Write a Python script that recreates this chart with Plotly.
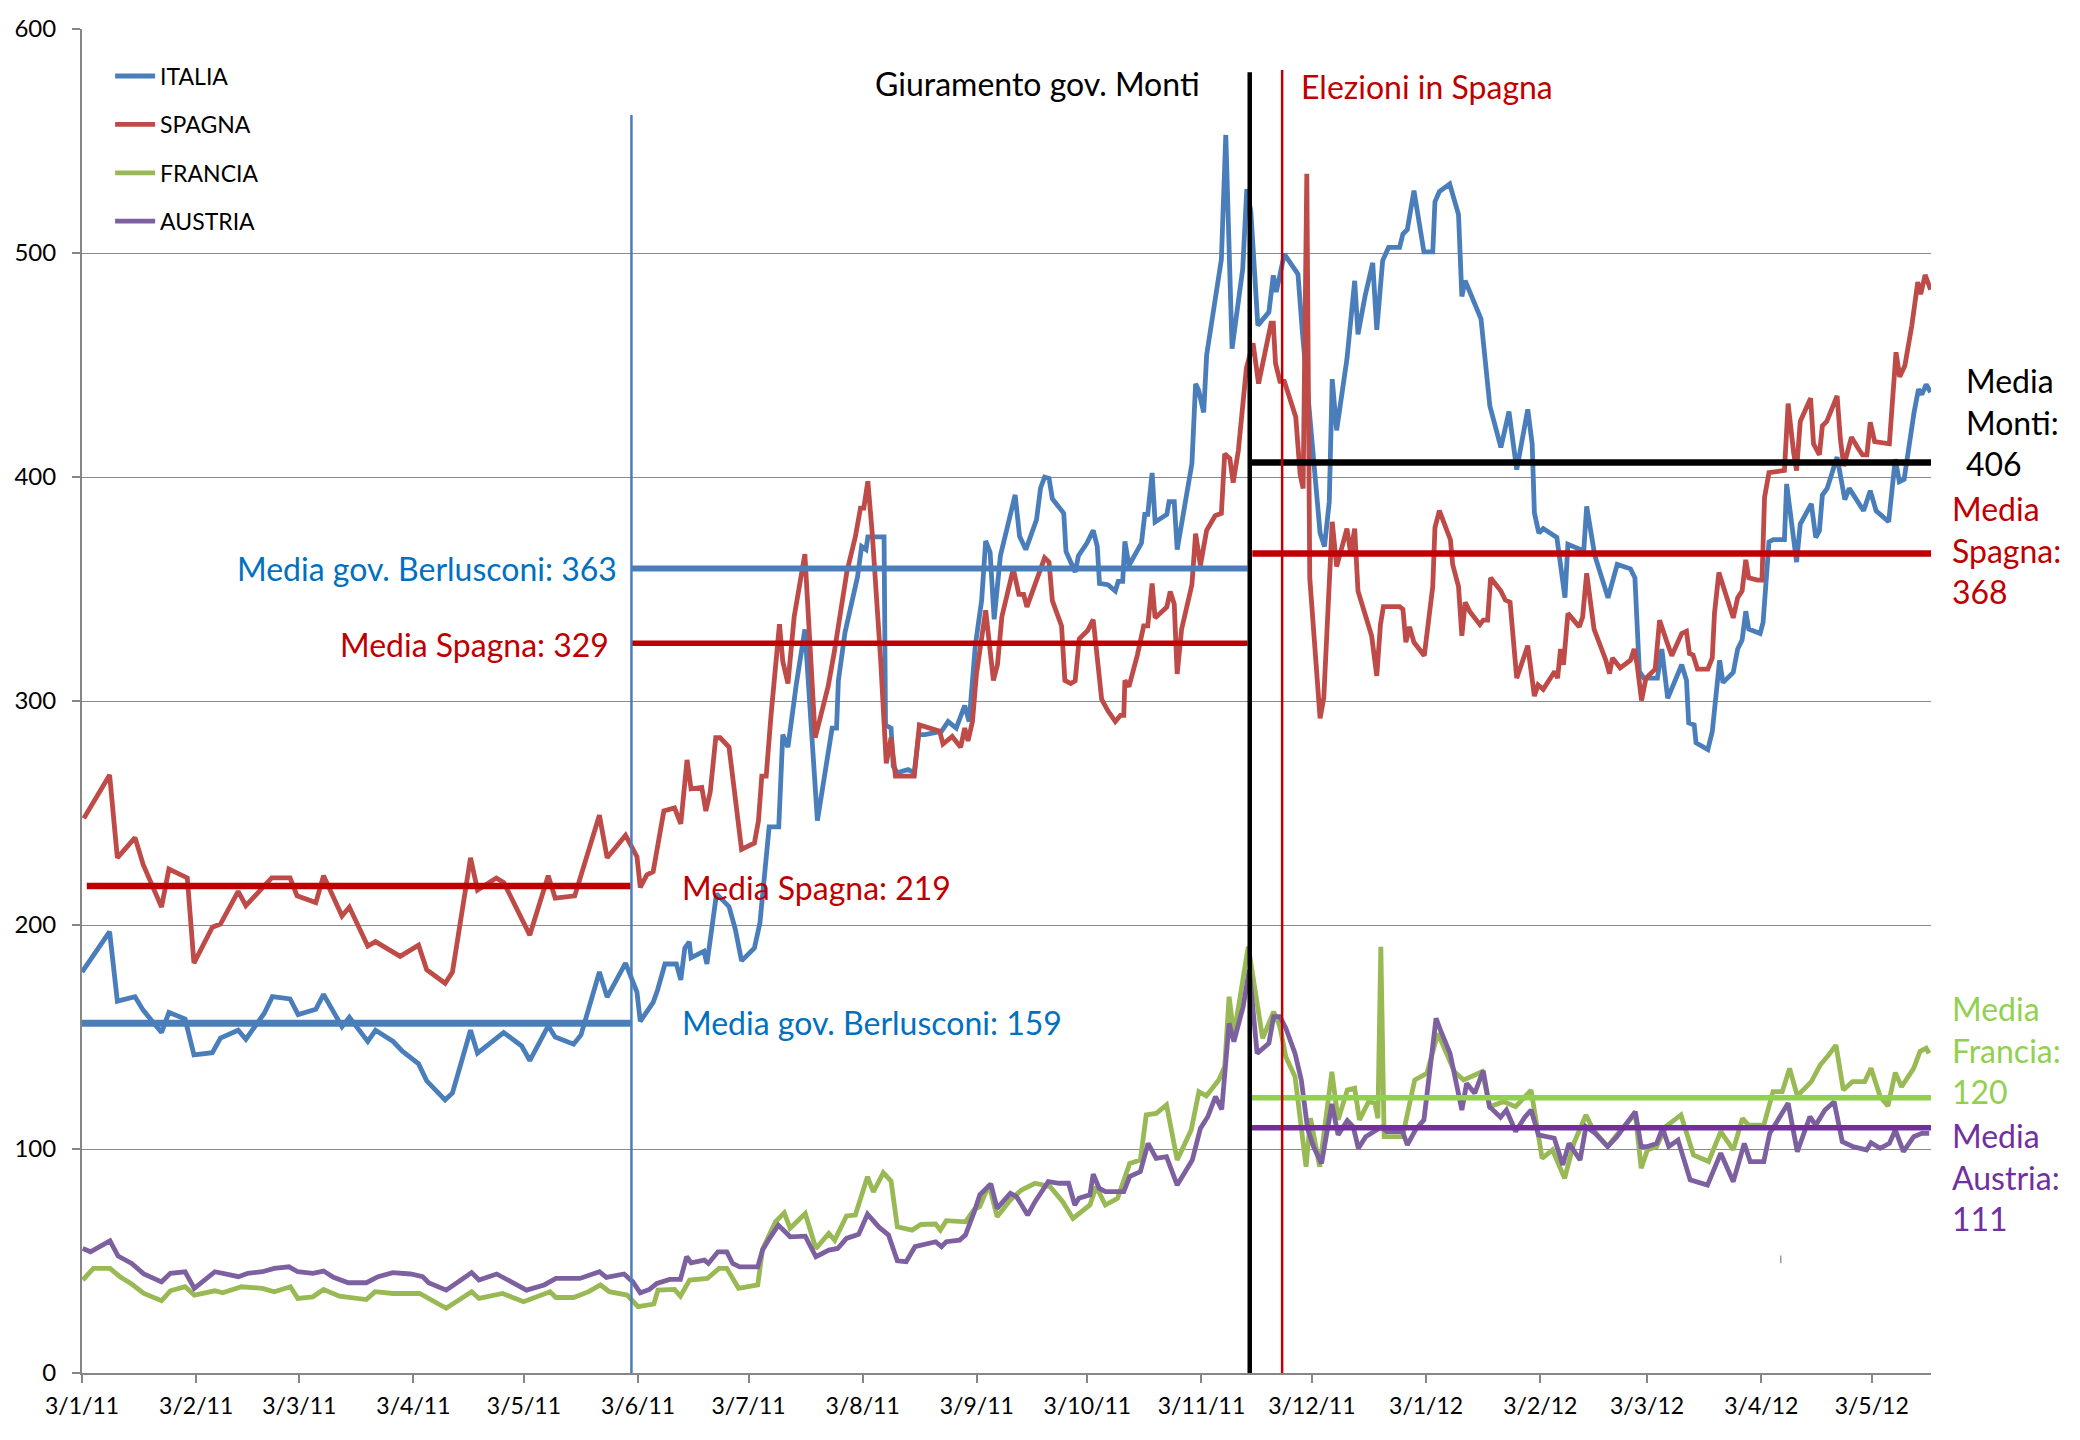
import plotly.graph_objects as go
import pandas as pd

START = pd.Timestamp("2011-01-03")

# x positions are days elapsed since START (3 Jan 2011)
ITALIA = [
    (0, 179), (7.5, 197), (9.6, 166), (14.4, 168), (16.6, 162), (21.6, 152), (23.6, 161), (28, 158),
    (30.4, 142), (35.4, 143), (37.6, 149.5), (42.4, 153), (44.5, 149), (49.5, 160.6), (51.7, 168),
    (56.5, 167), (58.7, 160), (63.5, 162.4), (65.6, 169), (70.6, 154.6), (72.6, 158.8), (77.6, 148),
    (79.7, 153), (84.5, 148), (87, 143.7), (91.4, 138), (93.6, 130.4), (98.6, 121.9), (100.6, 125),
    (105.5, 153), (107.4, 142.8), (114.5, 152), (119.4, 146), (121.6, 139.5), (126.6, 155), (128.5, 150),
    (133.5, 146.8), (135.5, 150.9), (140.5, 179), (142.6, 167.8), (147.6, 183), (150.7, 170), (151.6, 157),
    (155.1, 165.5), (156.3, 171), (158.3, 182.6), (161.4, 182.6), (162.6, 175.5), (163.7, 189.7),
    (164.9, 192.5), (165.4, 185.4), (168.9, 188.3), (169.7, 182.6), (172.3, 213.9), (175.7, 208.2),
    (177.4, 198.2), (179.1, 184), (182.6, 189.7), (184.1, 201), (186.6, 243.8), (189.2, 243.8),
    (190.3, 285), (191.7, 279.4), (194, 307.8), (196.3, 332), (199.7, 246.6), (203.7, 287.9),
    (204.9, 287.9), (205.4, 309.2), (207.2, 330.6), (210.6, 355.4), (211.7, 369), (212.9, 367.6),
    (213.4, 373.3), (217.8, 373.3), (218.2, 289.3), (219.7, 287.9), (220.3, 270.8), (221.4, 268),
    (224.3, 269.4), (226, 268), (227.2, 285), (228.9, 285), (233.4, 286.5), (235.2, 290.8), (237.4, 287.9),
    (239.7, 297.9), (240.9, 290.8), (242.6, 325), (244.3, 344.9), (245.4, 371.5), (246.6, 366.4),
    (247.7, 336.5), (249.4, 364.9), (253.4, 392), (254.6, 373.5), (256.3, 367.6), (259.2, 380.9),
    (260.3, 395.1), (261.4, 399.9), (262.6, 399.4), (263.5, 390.3), (266.6, 383.8), (267.2, 366.8),
    (269.7, 357.6), (270.6, 364.9), (272.9, 370.5), (274.6, 376.2), (275.7, 369), (276.3, 352.5),
    (278.6, 351.9), (280.6, 349.1), (281.4, 353.4), (282.6, 353.4), (283.2, 371.3), (284.3, 360.5),
    (287.7, 370.5), (288.6, 383.3), (289.4, 383.3), (290.6, 401.8), (291.4, 379.9), (294.6, 383.3),
    (295.2, 389), (296.6, 389), (297.4, 367.6), (299.2, 386.1), (301.4, 406), (302.4, 441.6),
    (303.2, 438.8), (304.6, 428.8), (305.4, 454.5), (309.4, 497.2), (310.6, 552.7), (312.3, 457.3),
    (315.2, 492.9), (316.3, 528.5), (317.4, 518.5), (319.3, 467.7), (322.3, 473.6), (323.5, 490),
    (324.3, 482.6), (326.5, 499.5), (328.3, 495.6), (330.2, 490.6), (331.4, 464.7), (336.2, 375),
    (337.4, 369), (338.7, 389), (339.5, 443.7), (340.7, 420.8), (343.5, 452.7), (345.6, 487.6),
    (346.5, 463.7), (348.4, 480.6), (350.5, 495.6), (351.6, 465.7), (353.2, 496.6), (354.8, 502.5),
    (357.8, 502.5), (358.7, 508.5), (359.9, 510.5), (361.7, 527.8), (364.4, 500.5), (366.8, 500.5),
    (367.4, 522.9), (368.6, 527.4), (371.4, 530.8), (373.8, 517.1), (374.7, 480.6), (375.6, 487.6),
    (379.9, 470.6), (381.1, 450.7), (382.3, 431.8), (385.3, 413.2), (387.5, 429.2), (389.6, 403.3),
    (392.6, 430.2), (393.8, 414.8), (394.4, 384), (395.6, 375), (396.8, 377), (400.5, 373),
    (402.7, 346.1), (403.5, 370), (407.8, 367), (408.6, 386.9), (410.8, 365), (414.4, 346.1),
    (416.9, 361), (420.5, 359), (421.7, 355), (422.9, 313.2), (424.1, 310.2), (427.8, 310.2),
    (429, 323.2), (430.6, 301.2), (434.4, 316.2), (435.7, 309.2), (436.3, 290.3), (437.8, 289.3),
    (438.3, 281.3), (441.5, 278.3), (442.7, 286.3), (444.7, 318.2), (445.6, 308.2), (448.4, 312.8),
    (449.6, 323.2), (450.8, 327.2), (451.8, 340.1), (452.6, 332.1), (455.7, 330.1), (456.5, 335.1),
    (458.1, 371), (459.3, 372), (462.3, 372), (462.9, 396.9), (464.5, 376), (465.6, 362), (466.6, 379),
    (469.6, 388), (470.8, 373), (471.8, 376), (472.6, 391.9), (473.9, 394.9), (476.6, 408.9),
    (478.7, 389.9), (479.9, 394.9), (483.8, 384.9), (485.6, 393.9), (487.2, 384.9), (490.6, 380),
    (492.4, 407.9), (493.5, 397.9), (494.8, 398.9), (497.5, 428.8), (498.7, 439.2), (499.6, 436.8),
    (500.8, 441.3), (502, 437.8),
]

SPAGNA = [
    (0.5, 247.6), (7.5, 267), (9.6, 230), (14.4, 239), (16.6, 227), (21.6, 208), (23.6, 225), (28.6, 221),
    (30.4, 183), (35.4, 199), (37.6, 200.4), (42.4, 215), (44.5, 208.6), (51.5, 221), (56.5, 221),
    (58.4, 213), (63.5, 210), (65.6, 222), (70.6, 204), (72.6, 208), (77.6, 190.6), (79.7, 192.6),
    (86.4, 186), (91.4, 191), (93.6, 180), (98.6, 174), (100.6, 179), (105.5, 230), (107.4, 215.6),
    (112.5, 221), (114.5, 219), (121.6, 195.5), (126.6, 222), (128.5, 212), (133.8, 213), (140.5, 249),
    (142.6, 230), (147.6, 240), (150.7, 230.5), (151.6, 216.8), (153.4, 222.4), (155.1, 223.8),
    (158, 250.9), (160.9, 252.3), (162.6, 245.2), (164.3, 273.7), (165.4, 260.8), (168.3, 261.4),
    (169.4, 250.9), (170.6, 259.4), (172.1, 283.6), (173.3, 283.6), (175.7, 279.4), (177.4, 258),
    (179.1, 233.8), (182.6, 236.6), (183.7, 246.6), (184.6, 266.5), (185.8, 266.5), (187.1, 293.5),
    (189.4, 334.3), (190.3, 317.7), (191.7, 307.8), (193.4, 337.7), (196.3, 365.6), (199.1, 283.6),
    (202.6, 306.4), (204.3, 322), (206, 339.1), (207.7, 357.6), (210, 373.3), (211.4, 386.1),
    (212.3, 386.1), (213.4, 398.1), (214.6, 374.7), (216.9, 317.7), (218.4, 272.2), (219.7, 283.6),
    (220.9, 266.5), (226, 266.5), (227.4, 289.3), (232.9, 286.5), (233.8, 280.8), (236.3, 284.2),
    (238.6, 279.4), (239.7, 287.9), (240.6, 282.2), (241.8, 290.8), (242.9, 312.1), (245.4, 340.5),
    (247.5, 309.2), (248.6, 316.3), (249.8, 337.7), (252.9, 359), (254.4, 347.6), (255.7, 347.6),
    (256.6, 342), (261.4, 363.9), (262.6, 362), (263.5, 344.8), (266, 333.5), (266.9, 309.2),
    (268.5, 307.8), (269.7, 309), (270.8, 327.8), (273.1, 331.5), (274.6, 336.3), (276.9, 300.7),
    (278.6, 295.6), (280.6, 290.8), (282, 293.6), (282.9, 293.6), (283.2, 309.2), (284.3, 306.4),
    (286.6, 320.6), (288.3, 333.5), (289.4, 333.5), (290.6, 352.5), (291.4, 337.1), (294.6, 342),
    (295.5, 348.9), (296.6, 343.3), (297.4, 312.1), (298.6, 332), (301.4, 351.9), (302.4, 374.7),
    (303.7, 360.5), (305.4, 376.2), (307.7, 382.7), (309.4, 383.8), (310.3, 410.3), (311.7, 408.3),
    (312.6, 397.5), (314, 411.7), (316.2, 448.7), (318, 459.7), (319.5, 441.7), (322.9, 468.7),
    (323.5, 468.7), (324.1, 450.7), (325.3, 442.7), (326.5, 442.7), (329.6, 426.8), (330.8, 400.9),
    (331.6, 394.9), (332.6, 535.4), (333.4, 355), (336.2, 292.3), (337.2, 301.2), (339.5, 380),
    (340.7, 360), (343.5, 377), (344.5, 366), (345.6, 377), (346.5, 349.1), (347.7, 343.1),
    (350.2, 329.1), (351.6, 311.2), (352.6, 334.1), (353.4, 342.1), (357.8, 342.1), (358.7, 341),
    (359.5, 326.2), (360.5, 333.1), (361.7, 326.2), (364.5, 320.2), (366.8, 351.1), (367.4, 377.4),
    (368.6, 385), (371.6, 372), (372.2, 361), (373.8, 351.1), (374.7, 329.1), (375.6, 344.1),
    (376.8, 340.1), (379.6, 334.1), (380.5, 336.1), (381.7, 336.1), (382.5, 355), (385.3, 349.1),
    (386.5, 345.1), (387.8, 344.1), (389.6, 310.2), (392.6, 324.7), (394.4, 302.2), (395.4, 307.2),
    (396.8, 305.2), (399.9, 313.2), (400.7, 310.2), (401.5, 323.2), (402.3, 316.2), (403.5, 339.1),
    (406.6, 333.1), (407.5, 337.5), (408.6, 357), (410.6, 332.1), (413.8, 318.2), (414.8, 312.2),
    (415.6, 319.2), (417.7, 314.8), (420.5, 318.2), (421.5, 323.2), (422.3, 316.2), (423.5, 300.2),
    (424.7, 310.2), (427.2, 314.2), (428.4, 336.1), (430.2, 327.2), (431.7, 320.2), (434.4, 330.1),
    (435.7, 331.1), (436.5, 321.2), (437.5, 320.5), (438.7, 314.2), (441.5, 314.2), (442.7, 319.2),
    (443.3, 339.1), (444.5, 357.4), (446, 349.1), (448.4, 337.1), (449.6, 346.1), (450.8, 349.1),
    (451.8, 363), (452.6, 355), (455, 354), (456.2, 354), (456.9, 390.9), (458.1, 401.9),
    (462.3, 402.9), (463.3, 432.8), (464.8, 410.9), (465.6, 402.9), (466.6, 424.8), (469.4, 435.2),
    (470.2, 414.8), (471.8, 409.9), (472.6, 422.8), (473.8, 424.8), (476.6, 436.2), (477.5, 416.8),
    (478.4, 404.9), (480.5, 417.8), (482.3, 412.8), (483.5, 409.9), (484.7, 409.9), (485.6, 424.4),
    (486.8, 415.8), (490.8, 414.8), (492.6, 455.7), (493.6, 444.7), (495, 449.7), (496.9, 467.7),
    (498.5, 487), (499.3, 481.6), (500.5, 490.2), (502, 483.6),
]

FRANCIA = [
    (0.2, 41.5), (3.1, 46.7), (7.6, 46.7), (10.3, 43), (13.5, 39.7), (16.8, 35.5), (21.6, 32.3), (24, 36.7),
    (28, 38.5), (30.5, 34.8), (36.1, 36.7), (38.2, 35.8), (43.3, 38.5), (49, 37.8), (52.2, 36.3),
    (56.6, 38.5), (58.6, 33.3), (62.7, 34), (65.6, 37.3), (69.9, 34.3), (77.2, 32.8), (79.6, 36.3),
    (84.4, 35.5), (91.7, 35.5), (98.9, 28.9), (105.8, 36.3), (107.8, 33.3), (114.2, 35.5), (119.9, 31.8),
    (127.1, 36.3), (128.7, 33.7), (133.5, 33.7), (137.6, 36.3), (140.8, 39.3), (143.2, 36.3), (148, 34.8),
    (151, 29.6), (155.3, 30.8), (156.4, 37), (158.5, 37.3), (160.9, 37.3), (162.5, 34.3), (165, 41.5),
    (169.8, 42.2), (173, 46.7), (175.1, 46.7), (178.3, 37.8), (183.5, 39.3), (184.8, 55.2), (188.3, 67.5),
    (190.7, 71.5), (192.3, 64.6), (196.4, 71.2), (199.3, 55.6), (202.8, 62.3), (204.4, 59.3),
    (207.6, 70.1), (210, 70.5), (213.3, 87.6), (214.9, 80.9), (217.6, 89.4), (219.7, 85.7), (221.4, 65.3),
    (225.4, 63.8), (227.8, 66.3), (231.8, 66.5), (233.1, 63.8), (234.7, 68), (239.9, 67.5), (242.3, 73),
    (243.8, 74.3), (246.3, 84), (248.5, 69.8), (252.1, 77.2), (255.1, 81.7), (258.8, 84.7), (262.9, 83.2),
    (266.3, 76.5), (269.1, 69), (273.7, 75), (275.4, 83.2), (277.9, 75), (281.2, 78), (284.5, 93.6),
    (287.4, 95.1), (289, 115.2), (291.7, 115.9), (294.5, 119.7), (297.4, 95.1), (301.2, 108.5),
    (303.3, 125.6), (305.3, 123.7), (308.7, 130.8), (310.3, 136.8), (311.5, 168), (312.8, 150.9),
    (316.7, 190.3), (320.6, 149.4), (323.6, 161.3), (325.3, 154.6), (326.9, 141.2), (329.4, 132.3),
    (332.4, 92.1), (333.6, 113.7), (336.1, 92.1), (339.4, 134.5), (341.1, 113), (343.6, 126.3),
    (345.6, 127.1), (346.9, 113), (349.4, 121.2), (351.1, 120.4), (351.9, 113.7), (352.7, 190.3),
    (353.6, 105.5), (358.6, 105.5), (361.9, 130.8), (365.2, 133.8), (368.2, 151.6), (372.7, 134.5),
    (375.2, 130.8), (380.2, 134.5), (382.3, 118.9), (386, 121.2), (389.3, 118.9), (393.5, 126.3),
    (395.1, 109.2), (396.5, 95.8), (399.3, 99.6), (402.6, 86.9), (405.1, 102.5), (408.4, 115.2),
    (410.4, 108.5), (414.3, 101.1), (416.8, 106.3), (419.3, 111.4), (421.8, 115.9), (423.4, 91.4),
    (425.1, 99.6), (427.6, 101.1), (430.1, 110), (434.2, 115.2), (437.6, 97.3), (441.7, 94.4),
    (445, 107.8), (448.4, 99.6), (450.9, 113.7), (452.5, 110.7), (456.7, 110.7), (459.2, 125.6),
    (461.7, 125.6), (463.7, 136), (465.8, 123.7), (469.6, 130.1), (472, 137.5), (474.1, 141.5),
    (476.3, 146.4), (478.3, 126.3), (480.8, 130.1), (484.1, 130.1), (485.8, 136), (488.3, 123.4),
    (490.4, 119.2), (492.4, 134.1), (494.1, 127.8), (497.4, 136), (499.1, 143.5), (500.8, 145),
    (501.6, 142.7),
]

AUSTRIA = [
    (0.2, 55.6), (2.3, 54.1), (7.6, 59), (9.8, 52.2), (13.5, 48.9), (16.8, 44.2), (21.6, 40.7), (24, 44.5),
    (28, 45.2), (30.5, 37.8), (36.1, 45.2), (38.5, 44.5), (42.5, 43), (45, 44.5), (49, 45.2), (52.2, 46.7),
    (56.2, 47.4), (58.6, 45.2), (62.7, 44.5), (65.6, 45.5), (68.3, 42.7), (72.3, 40.3), (77.2, 40.3),
    (80.4, 43), (84.4, 44.8), (89.2, 44.2), (92.5, 43), (94.1, 40.3), (98.9, 37), (102.9, 41.5),
    (105.8, 44.8), (107.8, 41.5), (112.6, 44.2), (116.6, 40.7), (120.7, 37), (125.5, 39.3), (128.7, 42.2),
    (135.2, 42.2), (140.5, 45.2), (142.4, 42.7), (147.2, 44.2), (149.6, 40.7), (151.6, 35.8), (154.1, 37.3),
    (156.1, 40), (159.6, 41.8), (162.5, 41.8), (164.2, 51.9), (165.4, 49.2), (169, 50.4), (170.1, 48.9),
    (172.7, 54.1), (175.1, 54.1), (176.7, 48.9), (178.6, 47.4), (183.5, 47.4), (184.8, 54.9), (186.7, 60.1),
    (189.1, 66), (192.3, 60.8), (196.4, 61.1), (199.3, 51.9), (202.8, 54.9), (205.2, 55.6), (207.6, 60.1),
    (210.9, 61.9), (213.3, 70.9), (216.5, 65), (219, 61.6), (221.4, 50.1), (223.8, 49.7), (226.2, 56.4),
    (231.8, 58.6), (233.4, 56.4), (234.7, 58.6), (238.3, 59.3), (239.9, 61.6), (242.3, 72), (243.8, 79.5),
    (246.8, 84.4), (248.5, 73.5), (252.1, 80.2), (253.8, 78.7), (256.8, 70.5), (258.8, 76.5), (262.4, 85.4),
    (265.4, 84.7), (267.9, 84.7), (269.6, 75), (270.7, 78), (273.7, 79.5), (274.6, 88.8), (276.2, 82.5),
    (277.9, 81), (282.9, 81), (284.5, 87.7), (287.4, 89.9), (289.5, 102.5), (291.7, 95.8), (294.5, 96.6),
    (297.4, 83.9), (301.5, 95.1), (303.7, 109.2), (305.7, 114.4), (307.8, 123.4), (309.5, 117.7),
    (311.5, 156.1), (312.8, 147.9), (315.3, 163.5), (317, 179.9), (319.1, 142.7), (322.3, 147.2),
    (323.6, 159.1), (325.3, 159.1), (326.9, 153.9), (329.4, 142.7), (331.1, 130.8), (332.8, 109.2),
    (334.4, 101.1), (336.6, 93.6), (339.4, 120.1), (341.1, 106.3), (343.6, 112.7), (345.2, 110),
    (346.6, 100.3), (348.6, 105.5), (352.7, 109.7), (354.4, 107.8), (358.6, 107.8), (359.9, 101.8),
    (362.2, 108.8), (364.4, 113), (367.7, 158.3), (368.9, 153.1), (371.5, 142.7), (374.7, 117.4),
    (376, 129.3), (378.2, 124.9), (380.5, 135), (382.2, 118.9), (385.2, 114.2), (386.8, 117.4),
    (389.3, 107.8), (391.8, 114.2), (393.5, 117.4), (395.5, 106.3), (399.8, 104.8), (402.1, 92.9),
    (403.8, 102.5), (406.8, 95.1), (408.4, 110), (410.9, 107), (414.3, 101.1), (416.8, 105.5),
    (421.8, 116.7), (423.4, 101.1), (425.1, 101.1), (427.6, 102.5), (429.2, 109.2), (430.9, 101.1),
    (433.4, 104), (436.7, 86.2), (438.4, 85.4), (441.4, 83.9), (445, 98.1), (448.4, 85.4), (451.4, 102.5),
    (453, 94.4), (456.7, 94.4), (458.3, 107), (463.3, 120.4), (465.8, 98.8), (469.2, 114.4), (470.8, 110.7),
    (473.3, 117.4), (475.8, 121.1), (478, 103.3), (480.8, 101.1), (484.6, 99.6), (485.8, 102.8),
    (488.3, 100.3), (490.8, 102.5), (492.4, 108.5), (494.6, 98.8), (497.4, 105.5), (499.6, 107),
    (501.6, 107),
]

# Average levels: (label, first day, last day, level)
MEDIE = [
    ("Spagna Berlusconi I", 1.3, 149.0, 217.4),
    ("Italia Berlusconi I", 0.0, 149.0, 156.1),
    ("Italia Berlusconi II", 149.2, 316.5, 359.1),
    ("Spagna Berlusconi II", 149.2, 316.5, 325.8),
    ("Italia Monti", 317.0, 502.1, 406.5),
    ("Spagna Monti", 317.8, 502.1, 365.8),
    ("Francia Monti", 317.5, 502.1, 122.9),
    ("Austria Monti", 317.2, 502.1, 109.5),
]

# Event markers: (name, day, top of line)
EVENTI = [
    ("Fine periodo", 149.2, 561.6),
    ("Giuramento gov. Monti", 317.1, 580.7),
    ("Elezioni in Spagna", 325.9, 581.7),
]

X_END_DAY = 502.1
TICK_DATES = ["2011-01-03", "2011-02-03", "2011-03-03", "2011-04-03", "2011-05-03", "2011-06-03",
              "2011-07-03", "2011-08-03", "2011-09-03", "2011-10-03", "2011-11-03", "2011-12-03",
              "2012-01-03", "2012-02-03", "2012-03-03", "2012-04-03", "2012-05-03"]
TICK_LABELS = ["3/1/11", "3/2/11", "3/3/11", "3/4/11", "3/5/11", "3/6/11", "3/7/11", "3/8/11", "3/9/11",
               "3/10/11", "3/11/11", "3/12/11", "3/1/12", "3/2/12", "3/3/12", "3/4/12", "3/5/12"]


def d(day):
    return START + pd.Timedelta(days=day)


FONT = "Lato, 'Open Sans', sans-serif"
SERIES_COLORS = {"ITALIA": "#4a7ebb", "SPAGNA": "#be4b48", "FRANCIA": "#98b954", "AUSTRIA": "#7d60a0"}
MEAN_STYLE = {
    "Spagna Berlusconi I": ("#c00000", 6.5),
    "Italia Berlusconi I": ("#4a7ebb", 7),
    "Italia Berlusconi II": ("#4a7ebb", 6),
    "Spagna Berlusconi II": ("#c00000", 5.5),
    "Italia Monti": ("#000000", 6.5),
    "Spagna Monti": ("#c00000", 6.5),
    "Francia Monti": ("#92d050", 5.5),
    "Austria Monti": ("#7030a0", 5.5),
}
EVENT_STYLE = {
    "Fine periodo": ("#4a7ebb", 2.5),
    "Giuramento gov. Monti": ("#000000", 4.5),
    "Elezioni in Spagna": ("#c00000", 2.5),
}

fig = go.Figure()

for i, (name, data) in enumerate([("ITALIA", ITALIA), ("SPAGNA", SPAGNA),
                                   ("FRANCIA", FRANCIA), ("AUSTRIA", AUSTRIA)]):
    fig.add_trace(go.Scatter(
        x=[d(p[0]) for p in data], y=[p[1] for p in data], mode="lines", name=name,
        line=dict(color=SERIES_COLORS[name], width=4.8), legendgroup=name,
    ))

for name, a, b, lvl in MEDIE:
    col, w = MEAN_STYLE[name]
    fig.add_trace(go.Scatter(x=[d(a), d(b)], y=[lvl, lvl], mode="lines", showlegend=False,
                             line=dict(color=col, width=w), hoverinfo="skip"))

for name, day, top in EVENTI:
    col, w = EVENT_STYLE[name]
    fig.add_trace(go.Scatter(x=[d(day), d(day)], y=[0, top], mode="lines", showlegend=False,
                             line=dict(color=col, width=w), hoverinfo="skip", cliponaxis=False))

# small stray tick visible in the original picture
fig.add_shape(type="line", xref="x", yref="y", x0=d(461.3), x1=d(461.3), y0=49, y1=52.5,
              line=dict(color="#9a9a9a", width=1.5))

BLUE_T, RED_T, GREEN_T, PURPLE_T = "#0070c0", "#c00000", "#92d050", "#7030a0"
ann_size = 32
annotations = [
    dict(x=d(304.1), y=575.7, text="Giuramento gov. Monti", xanchor="right", color="#000000"),
    dict(x=d(330.4), y=574.4, text="Elezioni in Spagna", xanchor="left", color=RED_T),
    dict(x=d(145.9), y=359.0, text="Media gov. Berlusconi: 363", xanchor="right", color=BLUE_T),
    dict(x=d(143.7), y=325.3, text="Media Spagna: 329", xanchor="right", color=RED_T),
    dict(x=d(162.4), y=216.8, text="Media Spagna: 219", xanchor="left", color=RED_T),
    dict(x=d(162.4), y=156.4, text="Media gov. Berlusconi: 159", xanchor="left", color=BLUE_T),
]
for a in annotations:
    fig.add_annotation(x=a["x"], y=a["y"], text=a["text"], xref="x", yref="y", showarrow=False,
                       xanchor=a["xanchor"], yanchor="middle",
                       font=dict(family=FONT, size=ann_size, color=a["color"]))

# plot area spans page x 82..1931 (1849 px)
side = [
    (1964, 424.7, "Media<br>Monti:<br>406", "#000000"),
    (1950, 367.4, "Media<br>Spagna:<br>368", RED_T),
    (1950, 144.2, "Media<br>Francia:<br>120", GREEN_T),
    (1950, 87.6, "Media<br>Austria:<br>111", PURPLE_T),
]
for px, yv, txt, col in side:
    fig.add_annotation(x=(px - 82) / 1849, y=yv, xref="paper", yref="y", text=txt, showarrow=False,
                       xanchor="left", yanchor="middle", align="left",
                       font=dict(family=FONT, size=ann_size, color=col))

# The page adds an 8 px body margin, so the figure is 16 px smaller than the window
fig.update_layout(
    width=2064, height=1424,
    margin=dict(l=74, r=141, t=21, b=59, autoexpand=False),
    paper_bgcolor="white", plot_bgcolor="white",
    font=dict(family=FONT, size=24, color="black"),
    showlegend=True,
    legend=dict(x=0.0152, y=0.981, xanchor="left", yanchor="top", bgcolor="rgba(0,0,0,0)",
                font=dict(family=FONT, size=23, color="black"), tracegroupgap=15.5,
                itemwidth=40),
    xaxis=dict(type="date", range=[d(0), d(X_END_DAY)], tickvals=TICK_DATES, ticktext=TICK_LABELS,
               showgrid=False, showline=True, linecolor="#868686", linewidth=2, automargin=False,
               ticks="outside", ticklen=8, tickwidth=1.5, tickcolor="#868686", ticklabelstandoff=3,
               tickfont=dict(family=FONT, size=23, color="black"), zeroline=False),
    yaxis=dict(range=[0, 600], dtick=100, tick0=0, showgrid=True, gridcolor="#8a8a8a", gridwidth=1.4,
               showline=True, linecolor="#868686", linewidth=2, ticks="outside", ticklen=8,
               automargin=False, tickwidth=1.5, tickcolor="#868686", zeroline=False, ticklabelstandoff=11,
               tickfont=dict(family=FONT, size=24, color="black")),
)

fig.write_html("out.html")
